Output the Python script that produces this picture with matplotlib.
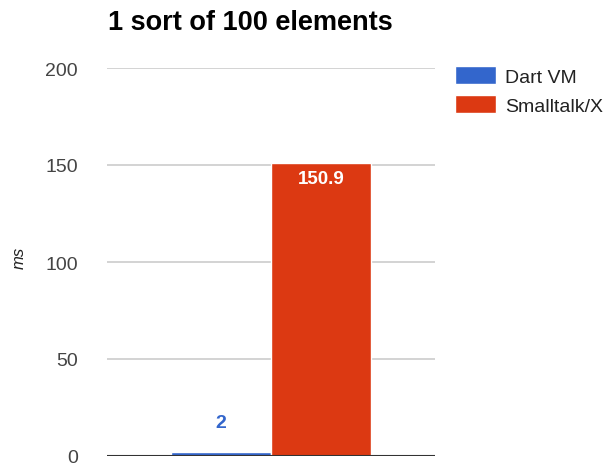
import matplotlib
matplotlib.use("Agg")
import matplotlib.pyplot as plt
from matplotlib.patches import Patch

# Chart data
series = ["Dart VM", "Smalltalk/X"]
values = [2, 150.9]
colors = ["#3366cc", "#dc3912"]
yticks = [0, 50, 100, 150, 200]

plt.rcParams['font.family'] = ['Liberation Sans', 'DejaVu Sans']

fig = plt.figure(figsize=(6.09, 4.64), dpi=100)
ax = fig.add_axes([107 / 609, 7 / 464, 328 / 609, 388 / 464])

# Bars, grouped around the middle of the plot
positions = [i - (len(series) - 1) / 2 for i in range(len(series))]
bars = ax.bar(positions, values, width=1.0, color=colors,
              edgecolor="white", linewidth=1, zorder=3)

ax.set_xlim(-1.64, 1.64)
ax.set_ylim(0, 200)
ax.set_yticks(yticks)
ax.set_xticks([])
ax.tick_params(axis='y', length=0, pad=21, labelsize=14, labelcolor="#444444")

# Gridlines and baseline
ax.grid(axis='y', color="#cccccc", linewidth=1.2, zorder=0)
for s in ax.spines.values():
    s.set_visible(False)
ax.axhline(0, color="#333333", linewidth=1.5, zorder=4)

# Value labels
ax.annotate(f"{values[0]:g}", (positions[0], values[0]), xytext=(0, 21),
            textcoords="offset points", ha="center", va="center",
            fontsize=14, fontweight="bold", color=colors[0])
ax.annotate(f"{values[1]:g}", (positions[1], values[1]), xytext=(0, -11),
            textcoords="offset points", ha="center", va="center",
            fontsize=13.5, fontweight="bold", color="white", zorder=5)

# Title and axis label
fig.text(108 / 609, 1 - 23 / 464, "1 sort of 100 elements", ha="left", va="center",
         fontsize=19.5, fontweight="bold", color="#000000")
fig.text(19 / 609, 1 - 258 / 464, "ms", rotation=90, ha="center", va="center",
         fontsize=12, fontstyle="italic", color="#222222")

# Legend on the right
handles = [Patch(facecolor=c, edgecolor="white") for c in colors]
fig.legend(handles, series, loc="upper left", bbox_to_anchor=(455 / 609, 1 - 67 / 464),
           frameon=False, fontsize=14, handlelength=2.1, handleheight=1.03,
           handletextpad=0.46, labelspacing=0.5, borderpad=0, borderaxespad=0,
           labelcolor="#222222")

fig.savefig("out.png", dpi=100)
